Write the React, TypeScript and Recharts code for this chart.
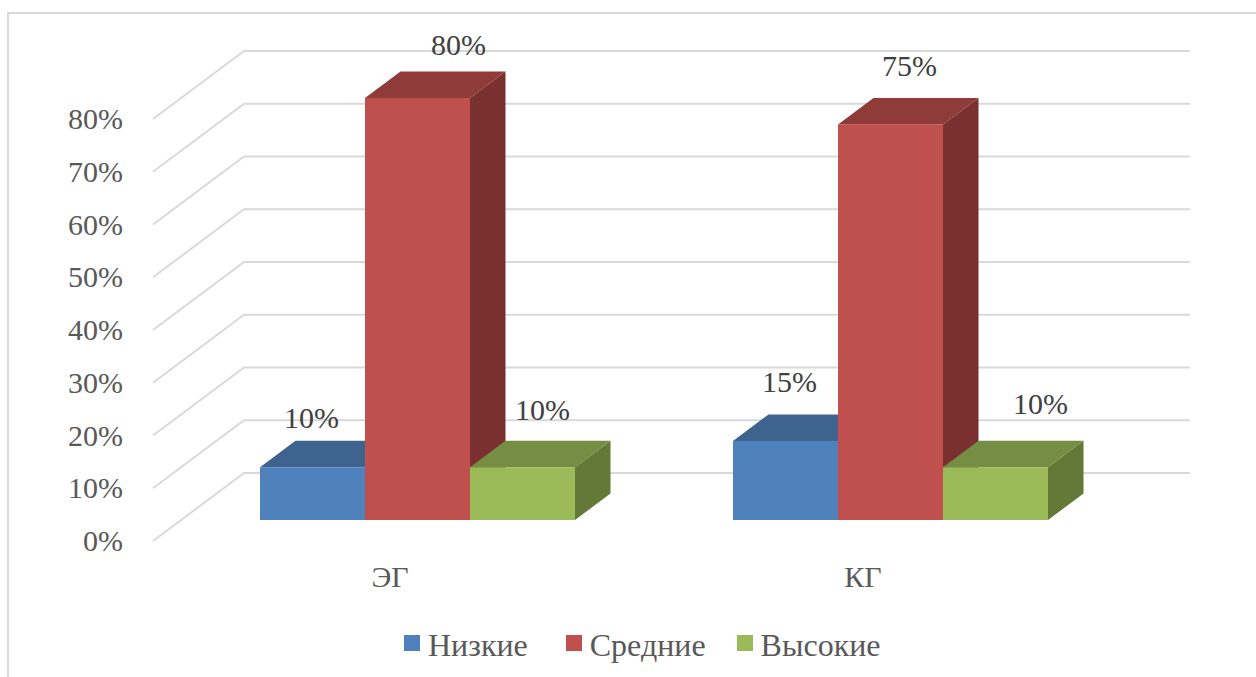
import React from "react"
import { BarChart, Bar, XAxis, YAxis, CartesianGrid, Legend, LabelList } from "recharts"

const categories = ["ЭГ", "КГ"]
const low = [10, 15]
const mid = [80, 75]
const high = [10, 10]
const yTicks = [0, 10, 20, 30, 40, 50, 60, 70, 80]

const data = categories.map((name, i) => ({ name, low: low[i], mid: mid[i], high: high[i] }))

const FONT = "'Liberation Serif', serif"
const DX = 35.5
const DY = 26.5
const LEGEND_GAPS = [38, 31, 0]

function Box3D({ x, y, width, height, fill, topFill, sideFill }: any) {
  const r = x + width
  const b = y + height
  return (
    <g>
      <polygon points={`${r},${y} ${r + DX},${y - DY} ${r + DX},${b - DY} ${r},${b}`} fill={sideFill} />
      <polygon points={`${x},${y} ${x + DX},${y - DY} ${r + DX},${y - DY} ${r},${y}`} fill={topFill} />
      <rect x={x} y={y} width={width} height={height} fill={fill} />
    </g>
  )
}

// wall + floor gridline, running from the front edge back and then along the wall
function GridLine({ x1, x2, y1 }: any) {
  return (
    <polyline
      points={`${x1 - 28.5},${y1 + 21} ${x1 + 62.5},${y1 - 47} ${x2 + 62.5},${y1 - 47}`}
      fill="none"
      stroke="#d9d9d9"
      strokeWidth={2}
    />
  )
}

const makeLabel = (nudge: number[][]) => (p: any) => {
  const [nx, ny] = nudge[p.index]
  return (
    <text x={p.x + p.width / 2 + nx} y={p.y + ny} textAnchor="middle" fontFamily={FONT} fontSize={30} fill="#404040">
      {p.value}%
    </text>
  )
}

function LegendRow({ payload }: any) {
  return (
    <div style={{ display: "flex", alignItems: "center", paddingLeft: 404 }}>
      {payload.map((e: any, i: number) => (
        <span key={e.value} style={{ display: "flex", alignItems: "center", marginRight: LEGEND_GAPS[i] }}>
          <span style={{ width: 16, height: 16, background: e.color, marginRight: 8, display: "inline-block", position: "relative", top: -2 }} />
          <span style={{ fontFamily: FONT, fontSize: 32, color: "#595959", lineHeight: "36px" }}>{e.value}</span>
        </span>
      ))}
    </div>
  )
}

export default function App() {
  return (
    <div style={{ position: "absolute", left: 0, top: 0, width: 1256, height: 677, overflow: "hidden", background: "#fff" }}>
      <div style={{ position: "absolute", left: 7, top: 12, width: 1260, height: 680, borderTop: "2px solid #d9d9d9", borderLeft: "2px solid #d9d9d9" }} />
      <BarChart
        width={1256}
        height={677}
        data={data}
        barGap={0}
        barCategoryGap={78.5}
        margin={{ top: 98, right: 128.5, bottom: 97, left: 81.5 }}
        style={{ position: "absolute", left: 0, top: 0 }}
      >
        <CartesianGrid vertical={false} horizontal={(p: any) => <GridLine key={p.index} {...p} />} />
        <XAxis
          dataKey="name"
          height={60}
          axisLine={false}
          tickLine={false}
          tick={(p: any) => (
            <text x={p.x - 28} y={p.y + 59} textAnchor="middle" fontFamily={FONT} fontSize={30} fill="#595959">
              {p.payload.value}
            </text>
          )}
        />
        <YAxis
          width={100}
          domain={[0, 80]}
          ticks={yTicks}
          axisLine={false}
          tickLine={false}
          tick={(p: any) => (
            <text x={123} y={p.y + 31} textAnchor="end" fontFamily={FONT} fontSize={30} fill="#595959">
              {p.payload.value}%
            </text>
          )}
        />
        <Legend
          verticalAlign="middle"
          layout="horizontal"
          itemSorter={null}
          wrapperStyle={{ position: "absolute", left: 0, width: 1256, top: 627 }}
          content={<LegendRow />}
        />
        <Bar
          dataKey="low"
          name="Низкие"
          fill="#4f81bd"
          isAnimationActive={false}
          shape={(p: any) => <Box3D {...p} topFill="#3e638f" sideFill="#345478" />}
        >
          <LabelList dataKey="low" content={makeLabel([[-1, -39], [4, -49]])} />
        </Bar>
        <Bar
          dataKey="mid"
          name="Средние"
          fill="#c0504d"
          isAnimationActive={false}
          shape={(p: any) => <Box3D {...p} topFill="#8f3b3a" sideFill="#7a302e" />}
        >
          <LabelList dataKey="mid" content={makeLabel([[41, -43], [19, -48]])} />
        </Bar>
        <Bar
          dataKey="high"
          name="Высокие"
          fill="#9bbb59"
          isAnimationActive={false}
          shape={(p: any) => <Box3D {...p} topFill="#758e43" sideFill="#647838" />}
        >
          <LabelList dataKey="high" content={makeLabel([[20, -47], [45, -53]])} />
        </Bar>
      </BarChart>
    </div>
  )
}
